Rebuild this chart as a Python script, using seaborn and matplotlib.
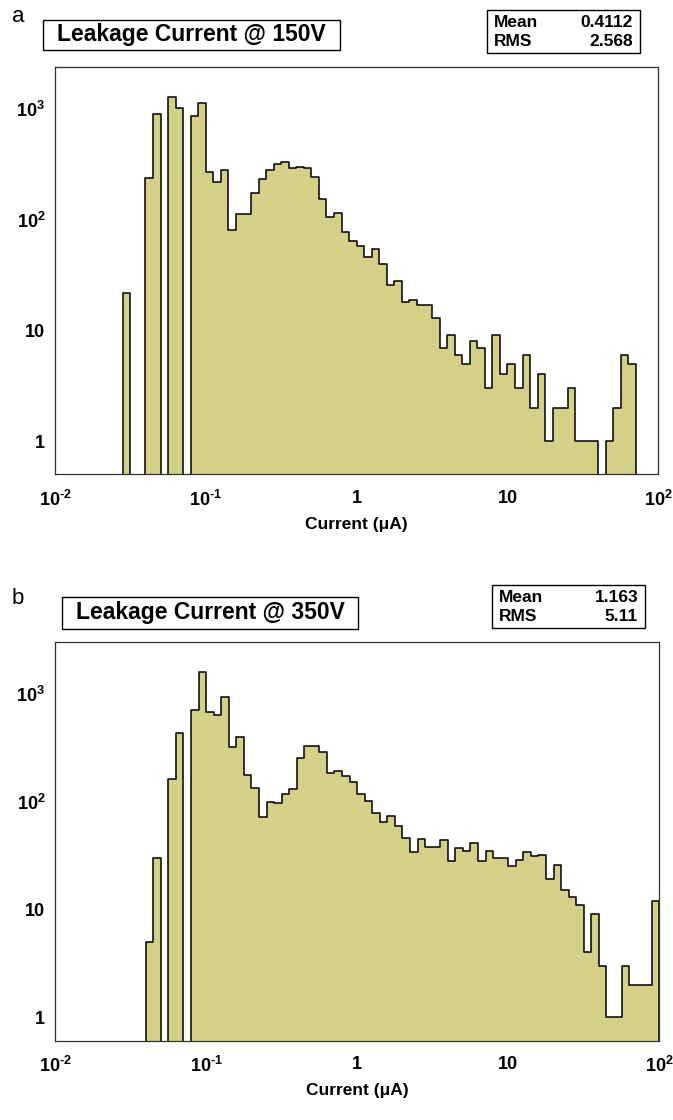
import numpy as np
import pandas as pd
import matplotlib
matplotlib.use("Agg")
import matplotlib.pyplot as plt
import seaborn as sns
from matplotlib.patches import Rectangle
from matplotlib.ticker import FixedLocator, FixedFormatter, LogLocator, NullFormatter

# ---------------- data ----------------
X_MIN, X_MAX, N_BINS = 0.01, 100.0, 80

counts_150V = [
    0, 0, 0, 0, 0, 0, 0, 0, 0, 22,
    0, 0, 240, 910, 0, 1280, 1030, 0, 870, 1130,
    269, 221, 282, 81, 113, 113, 175, 232, 282, 317,
    330, 292, 298, 292, 245, 154, 106, 116, 78, 65,
    58, 46, 55, 40, 26, 28, 18, 19, 17, 17,
    13, 7, 9, 6, 5, 8, 7, 3, 9, 4,
    5, 3, 6, 2, 4, 1, 2, 2, 3, 1,
    1, 1, 0, 1, 2, 6, 5, 0, 0, 0,
]

counts_350V = [
    0, 0, 0, 0, 0, 0, 0, 0, 0, 0,
    0, 0, 5, 30, 0, 162, 431, 0, 710, 1600,
    675, 637, 942, 324, 396, 177, 133, 72, 100, 97,
    118, 131, 253, 330, 325, 287, 186, 193, 174, 153,
    118, 101, 79, 65, 73, 60, 46, 34, 45, 38,
    38, 44, 28, 37, 35, 41, 28, 35, 30, 30,
    25, 29, 34, 31, 32, 19, 26, 15, 13, 11,
    4, 9, 3, 1, 1, 3, 2, 2, 2, 12,
]

titles = ["Leakage Current @ 150V", "Leakage Current @ 350V"]
panel_letters = ["a", "b"]
stat_names = ["Mean", "RMS"]
stats_150V = ["0.4112", "2.568"]
stats_350V = ["1.163", "5.11"]
x_label = "Current (\u03bcA)"
x_tick_values = [0.01, 0.1, 1, 10, 100]
x_tick_labels = ["$\\mathbf{10^{\u2010 2}}$", "$\\mathbf{10^{\u2010 1}}$", "1", "10",
                 r"$\mathbf{10^{2}}$"]
y_tick_values = [1, 10, 100, 1000]
y_tick_labels = ["1", "10", r"$\mathbf{10^{2}}$", r"$\mathbf{10^{3}}$"]

# ---------------- style ----------------
sns.set_theme(style="white")
plt.rcParams["font.family"] = ["Liberation Sans", "DejaVu Sans"]
plt.rcParams["mathtext.fontset"] = "custom"
plt.rcParams["mathtext.rm"] = "Liberation Sans"
plt.rcParams["mathtext.bf"] = "Liberation Sans:bold"
plt.rcParams["mathtext.it"] = "Liberation Sans:italic"
plt.rcParams["text.color"] = "black"
plt.rcParams["axes.labelcolor"] = "black"
plt.rcParams["xtick.labelcolor"] = "black"
plt.rcParams["ytick.labelcolor"] = "black"

FILL = "#d4d088"
W, H = 673, 1120

fig = plt.figure(figsize=(W / 100, H / 100), dpi=100)


def fig_box(x0, y0, x1, y1):
    return [x0 / W, 1 - y1 / H, (x1 - x0) / W, (y1 - y0) / H]


edges = np.logspace(np.log10(X_MIN), np.log10(X_MAX), N_BINS + 1)
centers = np.sqrt(edges[:-1] * edges[1:])


def draw_hist(ax, counts):
    df = pd.DataFrame({"current": centers, "count": counts})
    ax.set_xscale("log")
    n_before = len(ax.collections)
    sns.histplot(data=df, x="current", weights="count", bins=[float(e) for e in edges],
                 element="step", fill=True, color=FILL, alpha=1.0,
                 edgecolor="black", linewidth=1.1, ax=ax)
    coll = ax.collections[n_before:]
    ok = False
    if coll:
        verts = coll[0].get_paths()[0].vertices
        xmin = np.nanmin(verts[:, 0])
        ok = xmin > 0 and abs(np.log10(xmin) - np.log10(X_MIN)) < 0.2
    if not ok:
        for c in coll:
            c.remove()
        sns.histplot(data=df, x="current", weights="count",
                     bins=[float(e) for e in np.log10(edges)],
                     element="step", fill=True, color=FILL, alpha=1.0,
                     edgecolor="black", linewidth=1.1, ax=ax)


def style_axes(ax, ylim):
    ax.set_yscale("log")
    ax.set_xlim(X_MIN, X_MAX)
    ax.set_ylim(*ylim)
    ax.xaxis.set_major_locator(FixedLocator(x_tick_values))
    ax.xaxis.set_major_formatter(FixedFormatter(x_tick_labels))
    ax.xaxis.set_minor_locator(LogLocator(base=10, subs=np.arange(2, 10), numticks=20))
    ax.xaxis.set_minor_formatter(NullFormatter())
    ax.yaxis.set_major_locator(FixedLocator(y_tick_values))
    ax.yaxis.set_major_formatter(FixedFormatter(y_tick_labels))
    ax.yaxis.set_minor_locator(LogLocator(base=10, subs=np.arange(2, 10), numticks=20))
    ax.yaxis.set_minor_formatter(NullFormatter())
    ax.xaxis.set_tick_params(which="major", direction="in", length=9, width=0.9,
                             color="black", pad=11, labelsize=13, labelcolor="black")
    ax.xaxis.set_tick_params(which="minor", direction="in", length=4.5, width=0.9, color="black")
    ax.yaxis.set_tick_params(which="major", direction="in", length=12.5, width=0.9,
                             color="black", pad=7, labelsize=13, labelcolor="black")
    ax.yaxis.set_tick_params(which="minor", direction="in", length=6, width=0.9, color="black")
    ax.tick_params(top=False, right=False, which="both")
    for lab in ax.get_xticklabels() + ax.get_yticklabels():
        lab.set_fontweight("bold")
    for sp in ax.spines.values():
        sp.set_visible(True)
        sp.set_color("#333333")
        sp.set_linewidth(0.9)
    ax.set_xlabel(x_label, fontsize=12.5, fontweight="bold", labelpad=5, color="black")
    ax.set_ylabel("")
    ax.grid(False)


def add_box(x0, y0, x1, y1, lw=1.0):
    fig.patches.append(Rectangle((x0 / W, 1 - y1 / H), (x1 - x0) / W, (y1 - y0) / H,
                                 transform=fig.transFigure, fill=False,
                                 edgecolor="black", linewidth=lw))


panels = [
    dict(counts=counts_150V, stats=stats_150V, axbox=(55, 67, 658.3, 474.3), ylim=(0.5, 2410),
         letter_xy=(12, 16), title_box=(43, 20, 340, 50), stat_box=(487, 10, 640, 53)),
    dict(counts=counts_350V, stats=stats_350V, axbox=(55, 641.7, 659.3, 1041), ylim=(0.6, 3050),
         letter_xy=(12, 599), title_box=(62, 597, 358, 629), stat_box=(492, 585, 645, 628)),
]

for i, p in enumerate(panels):
    ax = fig.add_axes(fig_box(*p["axbox"]))
    draw_hist(ax, p["counts"])
    style_axes(ax, p["ylim"])

    lx, ly = p["letter_xy"]
    fig.text(lx / W, 1 - ly / H, panel_letters[i], fontsize=16, ha="left", va="center")

    x0, y0, x1, y1 = p["title_box"]
    add_box(x0, y0, x1, y1, lw=1.0)
    fig.text((x0 + x1) / 2 / W, 1 - (y0 + y1) / 2 / H, titles[i], fontsize=16.5,
             fontweight="bold", ha="center", va="center")

    sx0, sy0, sx1, sy1 = p["stat_box"]
    add_box(sx0, sy0, sx1, sy1, lw=1.0)
    rows = [sy0 + (sy1 - sy0) * 0.28, sy0 + (sy1 - sy0) * 0.74]
    for name, val, ry in zip(stat_names, p["stats"], rows):
        fig.text((sx0 + 7) / W, 1 - ry / H, name, fontsize=12.5, fontweight="bold",
                 ha="left", va="center")
        fig.text((sx1 - 7) / W, 1 - ry / H, val, fontsize=12.5, fontweight="bold",
                 ha="right", va="center")

fig.savefig("out.png", dpi=100)
